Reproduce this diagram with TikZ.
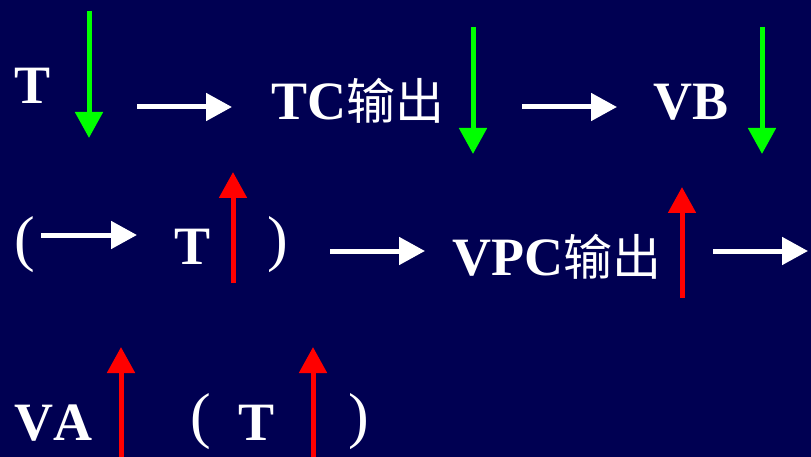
\documentclass[tikz,border=0pt]{standalone}
\usepackage{fontspec}
\setmainfont{Liberation Serif}[Kerning=Off]
\newfontfamily\cjk{Noto Sans CJK SC}
\usetikzlibrary{arrows.meta}
\definecolor{bgnavy}{RGB}{0,0,82}
\definecolor{gr}{RGB}{0,255,0}
\definecolor{rd}{RGB}{255,0,0}
\tikzset{
  lbl/.style={text=white,inner sep=0pt,anchor=base west,font=\fontsize{54}{54}\selectfont\bfseries},
  par/.style={text=white,inner sep=0pt,anchor=base west,font=\fontsize{62}{62}\selectfont},
  tipstyle/.style={-{Triangle[length=26pt,width=27pt]}},
  garrow/.style={tipstyle,draw=gr,fill=gr,line width=5pt},
  rarrow/.style={tipstyle,draw=rd,fill=rd,line width=5pt},
  warrow/.style={tipstyle,draw=white,fill=white,line width=5pt},
}
\newcommand{\zh}[1]{{\cjk\fontsize{49}{49}\selectfont\mdseries #1}}
\begin{document}
\begin{tikzpicture}[x=1pt,y=-1pt]
\fill[bgnavy] (0,0) rectangle (811,457);
\useasboundingbox (0,0) rectangle (811,457);
% row 1
\node[lbl] (t1) at (14,104) {T};
\node[lbl] (tc) at (271,120) {TC\zh{输出}};
\node[lbl] (vb) at (653,120) {VB};
\coordinate (g1a) at (89,11);   \coordinate (g1b) at (89,138);
\coordinate (g2a) at (473,27);  \coordinate (g2b) at (473,154);
\coordinate (g3a) at (762,27);  \coordinate (g3b) at (762,154);
\coordinate (w1a) at (137,107); \coordinate (w1b) at (232,107);
\coordinate (w2a) at (522,107); \coordinate (w2b) at (617,107);
\draw[garrow] (g1a) -- (g1b);
\draw[garrow] (g2a) -- (g2b);
\draw[garrow] (g3a) -- (g3b);
\draw[warrow] (w1a) -- (w1b);
\draw[warrow] (w2a) -- (w2b);
% row 2
\node[par] (lp2) at (14,259) {(};
\node[lbl] (t2) at (174,264) {T};
\node[par] (rp2) at (267,259) {)};
\node[lbl] (vpc) at (452,275) {VPC\zh{输出}};
\coordinate (w3a) at (41,235);  \coordinate (w3b) at (137,235);
\coordinate (w4a) at (330,251); \coordinate (w4b) at (425,251);
\coordinate (w5a) at (713,251); \coordinate (w5b) at (808,251);
\coordinate (r1a) at (233,283); \coordinate (r1b) at (233,172);
\coordinate (r2a) at (682,298); \coordinate (r2b) at (682,187);
\draw[warrow] (w3a) -- (w3b);
\draw[warrow] (w4a) -- (w4b);
\draw[warrow] (w5a) -- (w5b);
\draw[rarrow] (r1a) -- (r1b);
\draw[rarrow] (r2a) -- (r2b);
% row 3
\node[lbl] (va) at (14,440) {VA};
\node[par] (lp3) at (190,436) {(};
\node[lbl] (t3) at (238,440) {T};
\node[par] (rp3) at (348,436) {)};
\coordinate (r3a) at (121,460); \coordinate (r3b) at (121,347);
\coordinate (r4a) at (313,460); \coordinate (r4b) at (313,347);
\draw[rarrow] (r3a) -- (r3b);
\draw[rarrow] (r4a) -- (r4b);
\end{tikzpicture}
\end{document}
